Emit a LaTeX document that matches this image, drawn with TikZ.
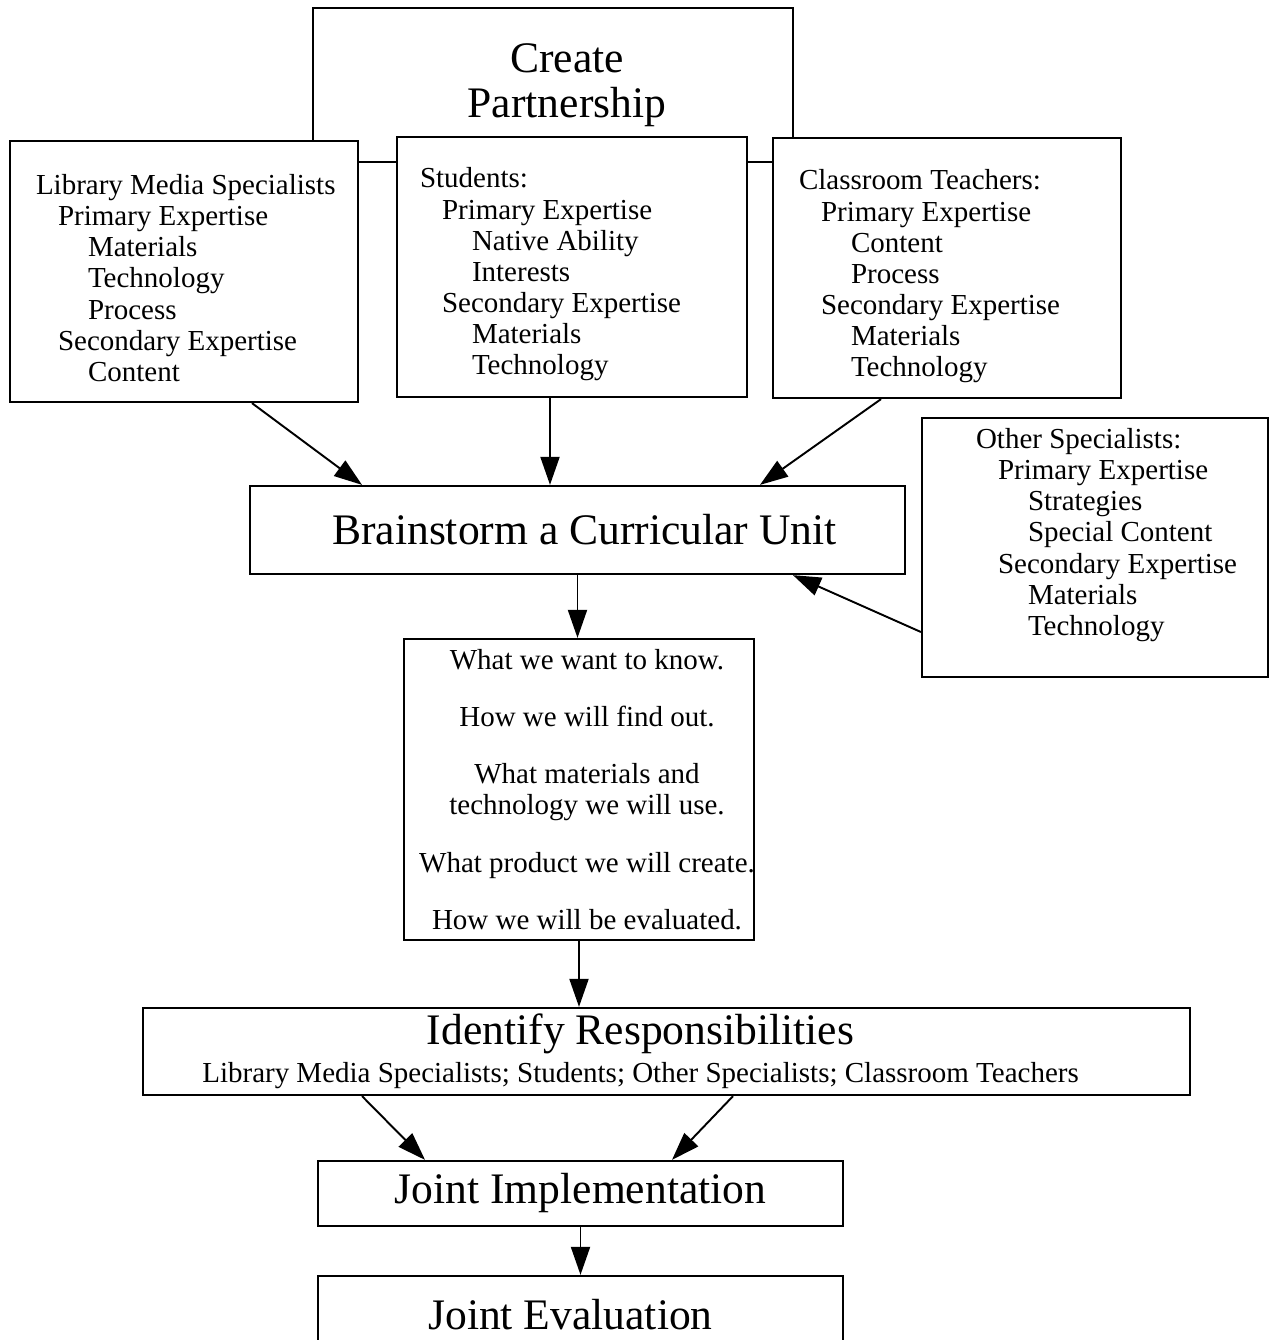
\documentclass[tikz,border=0pt]{standalone}
\usepackage{fontspec}
\setmainfont{Liberation Serif}
\usepackage{tikz}
\usetikzlibrary{arrows.meta,positioning}
\newcommand{\listfont}{\fontsize{16.5}{17.75}\selectfont}
\newcommand{\bigfont}{\fontsize{24.8}{25.6}\selectfont}
\newcommand{\natspace}{\spaceskip=0pt\xspaceskip=0pt\relax}
\newcommand{\lvhead}[1]{\mbox{#1}}
\newcommand{\lvexp}[1]{\hspace*{0.44cm}\mbox{#1}}
\newcommand{\lvitem}[1]{\hspace*{1.04cm}\mbox{#1}}
\tikzset{
    %Define standard arrow tip
    >={Triangle[length=0.56cm,width=0.38cm]},
    %Define style for boxes
    punktrect/.style={
           rectangle,
           draw=black, line width=1.3pt,
           fill=white,
           inner sep=0pt,
           align=center,
           font=\bigfont},
    listrect/.style={
           punktrect,
           align=left,
           font=\listfont,
           execute at begin node=\natspace},
    % move centred text sideways inside its box
    nudge/.style={
           execute at begin node={\natspace\leftskip=#1 plus 1fil\rightskip=-#1 plus 1fil\relax}},
    % Define arrow style
    pil/.style={
           ->,
           line width=1.1pt}
}
\begin{document}
\begin{tikzpicture}[x=0.02cm,y=-0.02cm]
\path[clip] (0,0) rectangle (1271,1340);
 %nodes
\node[punktrect, text width=8cm, nudge=0.28cm, minimum width=9.6cm, minimum height=3.08cm] (create) at (553,85) {Create\\Partnership};
\node[listrect, text width=5.92cm, inner xsep=0.52cm, text height=0.66cm, minimum height=5.22cm] (lms) at (184,271.5)
    {\lvhead{Library Media Specialists}\\ \lvexp{Primary Expertise}\\ \lvitem{Materials}\\ \lvitem{Technology}\\
     \lvitem{Process}\\ \lvexp{Secondary Expertise}\\ \lvitem{Content}};
\node[listrect, text width=6.08cm, inner xsep=0.46cm, text height=0.7cm, minimum height=5.2cm] (stud) at (572,267)
    {\lvhead{Students:}\\ \lvexp{Primary Expertise}\\ \lvitem{Native Ability}\\ \lvitem{Interests}\\
     \lvexp{Secondary Expertise}\\ \lvitem{Materials}\\ \lvitem{Technology}};
\node[listrect, text width=5.92cm, inner xsep=0.52cm, text height=0.74cm, minimum height=5.2cm] (teach) at (947,268)
    {\lvhead{Classroom Teachers:}\\ \lvexp{Primary Expertise}\\ \lvitem{Content}\\ \lvitem{Process}\\
     \lvexp{Secondary Expertise}\\ \lvitem{Materials}\\ \lvitem{Technology}};
\node[listrect, text width=4.76cm, inner xsep=1.08cm, minimum height=5.18cm] (other) at (1095,547.5)
    {\lvhead{Other Specialists:}\\ \lvexp{Primary Expertise}\\ \lvitem{Strategies}\\ \lvitem{Special Content}\\
     \lvexp{Secondary Expertise}\\ \lvitem{Materials}\\ \lvitem{Technology}\\ \mbox{}};
\node[punktrect, text width=12cm, nudge=0.14cm, minimum width=13.1cm, minimum height=1.76cm] (brain) at (577.5,530) {Brainstorm a Curricular Unit};
\node[punktrect, font=\listfont, text width=6.9cm, nudge=0.16cm, minimum width=7cm, minimum height=6.02cm] (plan) at (579,789.5)
    {What we want to know.\\[14.9pt] How we will find out.\\[14.9pt] What materials and\\ technology we will use.\\[14.9pt]
     What product we will create.\\[14.9pt] How we will be evaluated.};
\node[punktrect, text width=20cm, nudge=-0.52cm, minimum width=20.94cm, minimum height=1.74cm] (resp) at (666.5,1051.5)
    {Identify Responsibilities\\[-4pt] {\listfont Library Media Specialists; Students; Other Specialists; Classroom Teachers}};
\node[punktrect, minimum width=10.5cm, minimum height=1.3cm] (impl) at (580.5,1193.5) {Joint Implementation};
\node[punktrect, text width=9cm, nudge=-0.2cm, minimum width=10.5cm, minimum height=1.56cm] (eval) at (580.5,1315) {Joint Evaluation};

 \path[pil]
 	([xshift=1.36cm]lms.south) edge ([xshift=-4.31cm]brain.north)
 	([xshift=-0.44cm]stud.south) edge ([xshift=-0.55cm]brain.north)
 	([xshift=-1.32cm]teach.south) edge ([xshift=3.65cm]brain.north)
 	([yshift=-1.69cm]other.west) edge ([xshift=4.31cm]brain.south)
 	(brain.south) edge (brain.south |- plan.north)
 	(plan.south) edge (plan.south |- resp.north)
 	([xshift=-6.09cm]resp.south) edge ([xshift=-3.11cm]impl.north)
 	([xshift=1.33cm]resp.south) edge ([xshift=1.83cm]impl.north)
 	(impl.south) edge (impl.south |- eval.north);

\end{tikzpicture}
\end{document}
